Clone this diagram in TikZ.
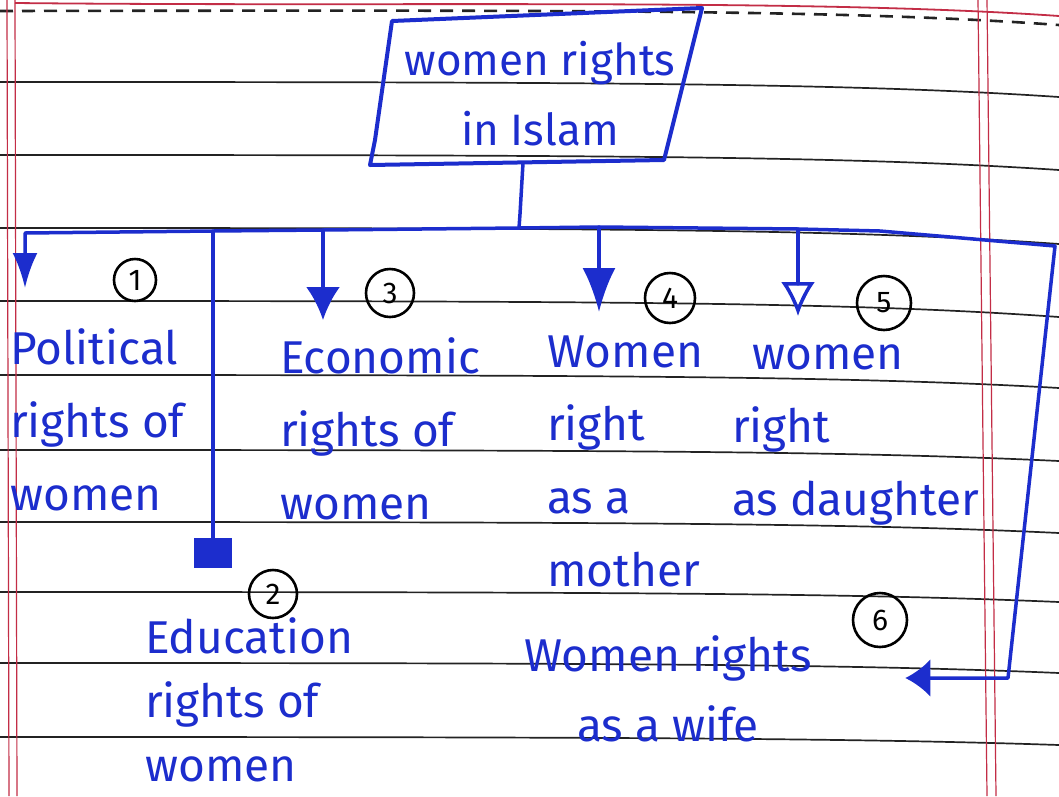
\documentclass[tikz,border=0pt]{standalone}
\usepackage{fontspec}
\setmainfont{Fira Sans}
\usetikzlibrary{arrows.meta}
\definecolor{ink}{RGB}{28,45,205}
\definecolor{rule}{RGB}{35,35,35}
\definecolor{marginred}{RGB}{195,45,70}
\begin{document}
\begin{tikzpicture}[x=1pt,y=-1pt,
  paper/.style={draw=rule, line width=1.7pt},
  redline/.style={draw=marginred, line width=1.2pt},
  conn/.style={draw=ink, line width=3.5pt, line cap=round, line join=round},
  hand/.style={text=ink, inner sep=0pt, align=left, font=\fontsize{46}{73}\selectfont},
  num/.style={circle, draw=black, line width=2.6pt, inner sep=0pt, text=black, font=\fontsize{30}{30}\selectfont},
]
\useasboundingbox (0,0) rectangle (1059,796);
\fill[white] (0,0) rectangle (1059,796);

% ruled paper
\foreach \y/\d in {82/15,155/15,228/16,301/16,375/13,450/11,522/11,592/10,663/10,737/8}
  \draw[paper] (0,\y) .. controls (600,\y) and (850,\y+1) .. (1059,\y+\d);
\draw[paper, line width=2.6pt, dash pattern=on 13pt off 9pt] (0,11) .. controls (600,10) and (850,10) .. (1059,25);
\draw[redline, line width=1.8pt] (15,3) .. controls (400,7) and (800,-2) .. (1059,16);
\draw[redline] (7,0) -- (9,796);
\draw[redline] (15,0) -- (17,796);
\draw[redline] (978,0) -- (987,796);
\draw[redline] (987,0) -- (996,796);

% title
\node[hand, align=center, anchor=north, font=\fontsize{44}{70}\selectfont] (title) at (540,41) {women rights\\in Islam};
\draw[conn, line width=4pt] (392,21) -- (702,8) -- (664,160) -- (370,165) -- (375,140) -- cycle;
\coordinate (tb) at (523,163);

% branch texts
\node[hand, anchor=north west] (pol) at (10,328) {Political\\rights of\\women};
\node[hand, anchor=north west] (eco) at (280,337) {Economic\\rights of\\women};
\node[hand, anchor=north west] (mom) at (547,336) {Women\\right\\as a\\mother};
\node[hand, anchor=north west] (dau) at (732,344) {\hspace{20pt}women\\right\\as daughter};
\node[hand, anchor=north west, font=\fontsize{46}{64}\selectfont] (edu) at (145,617) {Education\\rights of\\women};
\node[hand, anchor=north, align=center, font=\fontsize{46}{70}\selectfont] (wife) at (668,635) {Women rights\\as a wife};

% circled numbers
\node[num, minimum size=42pt] (n1) at (135,280) {1};
\node[num, minimum size=48pt] (n3) at (390,293) {3};
\node[num, minimum size=50pt] (n4) at (670,298) {4};
\node[num, minimum size=54pt] (n5) at (884,303) {5};
\node[num, minimum size=48pt] (n2) at (273,594) {2};
\node[num, minimum size=54pt] (n6) at (880,620) {6};

% bus
\coordinate (j) at (519,228);
\coordinate (b1) at (25,233);
\coordinate (b2) at (213,231);
\coordinate (b3) at (323,230);
\coordinate (b4) at (599,227);
\coordinate (b5) at (798,229);
\coordinate (bm) at (880,231);
\coordinate (bR) at (1055,246);
\coordinate (cR) at (1008,678);

\draw[conn] (tb) -- (520,214) -- (j);
\draw[conn, -{Latex[length=35pt,width=25pt]}, shorten >=40pt] (j) -- (b3) -- (b2) -- (b1) -- (b1 |- pol.north);
\draw[conn, -{Square[length=30pt,width=38pt]}, shorten >=49pt] (b2) -- (b2 |- edu.north);
\draw[conn, -{Latex[length=33pt,width=34pt]}, shorten >=17pt] (b3) -- (b3 |- eco.north);
\draw[conn, -{Latex[length=44pt,width=33pt]}, shorten >=24pt] (b4) -- (b4 |- mom.north);
\draw[conn, -{Latex[open,length=34pt,width=34pt]}, shorten >=28pt] (b5) -- (b5 |- dau.north);
\draw[conn, -{Latex[length=25pt,width=38pt]}, shorten >=-3pt] (j) -- (b4) -- (b5) -- (bm) -- (bR) -- (cR) -- (n6.east |- cR);
\end{tikzpicture}
\end{document}
